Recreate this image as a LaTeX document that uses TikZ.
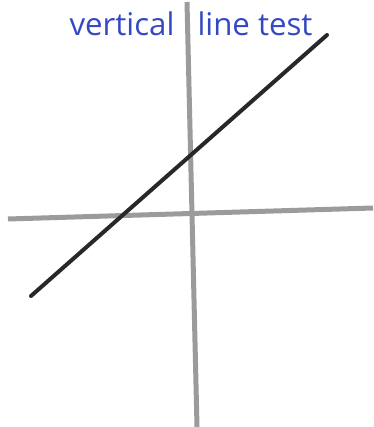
\documentclass[tikz,border=0pt]{standalone}
\usepackage{fontspec}
\setmainfont{Open Sans}
\definecolor{penblue}{RGB}{52,72,196}
\definecolor{axisgray}{RGB}{155,155,155}
\definecolor{lineblack}{RGB}{40,40,40}
\tikzset{
  axisline/.style={draw=axisgray, line width=5pt},
  graphline/.style={draw=lineblack, line width=4pt, line cap=round},
  hand/.style={text=penblue, inner sep=0pt, anchor=base, font=\fontsize{25}{25}\selectfont}
}
\begin{document}
\begin{tikzpicture}[x=1pt,y=-1pt]
\useasboundingbox (0,0) rectangle (373,427);
\coordinate (vtop) at (187,2);
\coordinate (vbot) at (197,427);
\coordinate (hleft) at (8,219);
\coordinate (hright) at (373,208);
\coordinate (lstart) at (31,296);
\coordinate (lend) at (327,35);
\draw[axisline] (vtop) -- (vbot);
\draw[axisline] (hleft) -- (hright);
\draw[graphline] (lstart) -- (lend);
\node[hand] (w1) at (122,36) {\resizebox{105pt}{!}{vertical}};
\node[hand] (w2) at (255,36) {\resizebox{115pt}{!}{line test}};
\end{tikzpicture}
\end{document}
